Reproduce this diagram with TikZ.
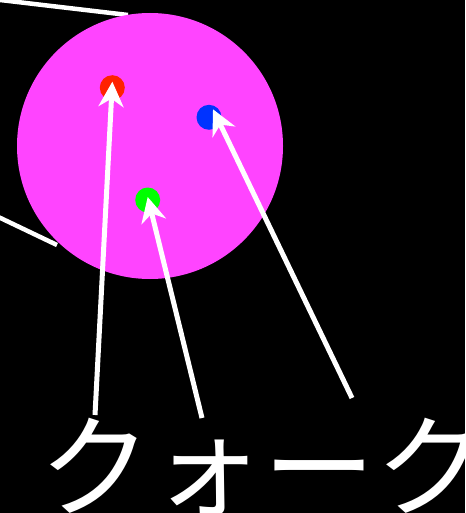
\documentclass[tikz,border=0pt]{standalone}
\usepackage{fontspec}
\newfontfamily\jpfont{Noto Sans CJK JP}
\usetikzlibrary{arrows.meta}
\definecolor{protonpink}{HTML}{FF44FF}
\definecolor{qred}{HTML}{FF2200}
\definecolor{qblue}{HTML}{0033FF}
\definecolor{qgreen}{HTML}{00FF00}
\tikzset{
  quark/.style={circle,inner sep=0pt,minimum size=25pt},
  pointer/.style={draw=white,line width=5pt,-{Stealth[length=25pt,width=25pt,inset=8pt]}},
  zoomline/.style={draw=white,line width=4.5pt}
}
\begin{document}
\begin{tikzpicture}[x=1pt,y=-1pt]
\useasboundingbox (0,0) rectangle (465,513);
\clip (0,0) rectangle (465,513);
\fill[black] (0,0) rectangle (465,513);
\coordinate (z1a) at (-10,-1.2);
\coordinate (z1b) at (128,15);
\coordinate (z2a) at (-10,213);
\coordinate (z2b) at (57,245);
\draw[zoomline] (z1a) -- (z1b);
\draw[zoomline] (z2a) -- (z2b);
\node[circle,fill=protonpink,inner sep=0pt,minimum size=266pt] (proton) at (150,146) {};
\node[quark,fill=qred] (red) at (112.3,87.7) {};
\node[quark,fill=qblue] (blue) at (209,117.3) {};
\node[quark,fill=qgreen] (green) at (147.7,200) {};
\node[anchor=base west,inner sep=0pt,text=white,font=\jpfont\fontsize{112}{112}\selectfont] (label) at (39,508.6) {クォーク};
\coordinate (tr) at (95,415);
\coordinate (tg) at (202,418);
\coordinate (tb) at (352,398);
\draw[pointer,shorten >=-1pt] (tr) -- ([yshift=5pt]red.center);
\draw[pointer] (tg) -- ([yshift=3pt]green.center);
\draw[pointer] (tb) -- ([xshift=4pt,yshift=8pt]blue.center);
\end{tikzpicture}
\end{document}
